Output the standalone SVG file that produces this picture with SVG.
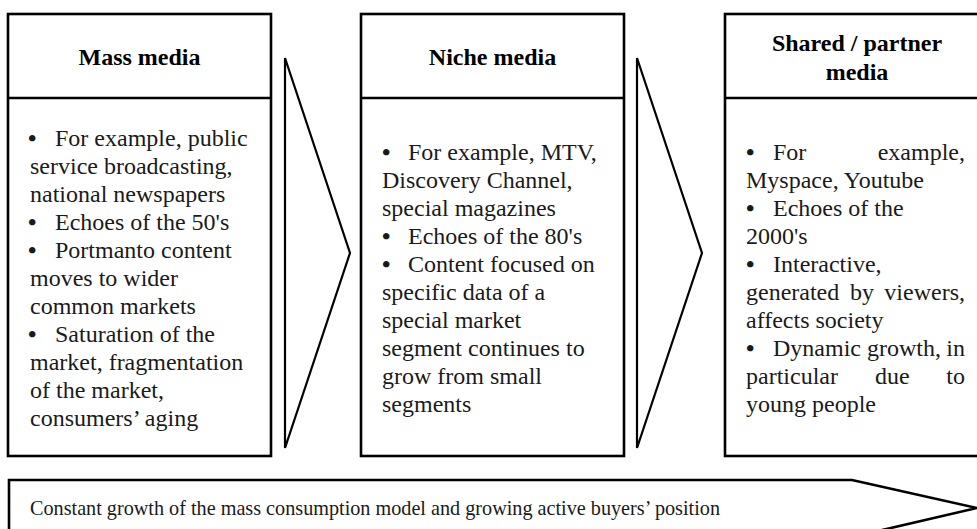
<svg xmlns="http://www.w3.org/2000/svg" width="977" height="529" viewBox="0 0 977 529">
<style>
  .box { fill: #ffffff; stroke: #000000; stroke-width: 2.6; }
  .chev { fill: none; stroke: #000000; stroke-width: 2.2; stroke-linejoin: miter; }
  .h { font-family: "Liberation Serif", "Times New Roman", serif; font-size: 24px; font-weight: bold; fill: #000; text-anchor: middle; }
  .t { font-family: "Liberation Serif", "Times New Roman", serif; font-size: 24px; fill: #1a1a1a; }
  .b { font-family: "Liberation Serif", "Times New Roman", serif; font-size: 24px; font-weight: bold; fill: #1a1a1a; }
  .s { font-family: "Liberation Serif", "Times New Roman", serif; font-size: 21px; fill: #1a1a1a; }
  .e { text-anchor: end; }
</style>
<rect width="977" height="529" fill="#ffffff"/>

<g id="connectors">
  <polygon class="chev" points="285,58 350,253 285,448"/>
  <polygon class="chev" points="637,58 702,253 637,448"/>
</g>

<g id="mass-media">
  <rect class="box" x="8" y="14" width="263" height="442"/>
  <line class="box" x1="8" y1="98" x2="271" y2="98"/>
  <text class="h" x="139.5" y="65">Mass media</text>
  <text class="b" x="28" y="146">•</text><text class="t" x="55" y="146">For example, public</text>
  <text class="t" x="30" y="174">service broadcasting,</text>
  <text class="t" x="30" y="202">national newspapers</text>
  <text class="b" x="28" y="230">•</text><text class="t" x="55" y="230">Echoes of the 50's</text>
  <text class="b" x="28" y="258">•</text><text class="t" x="55" y="258">Portmanto content</text>
  <text class="t" x="30" y="286">moves to wider</text>
  <text class="t" x="30" y="314">common markets</text>
  <text class="b" x="28" y="342">•</text><text class="t" x="55" y="342">Saturation of the</text>
  <text class="t" x="30" y="370">market, fragmentation</text>
  <text class="t" x="30" y="398">of the market,</text>
  <text class="t" x="30" y="426">consumers’ aging</text>
</g>

<g id="niche-media">
  <rect class="box" x="361" y="14" width="263" height="442"/>
  <line class="box" x1="361" y1="98" x2="624" y2="98"/>
  <text class="h" x="492.5" y="65">Niche media</text>
  <text class="b" x="382" y="160">•</text><text class="t" x="408" y="160">For example, MTV,</text>
  <text class="t" x="382" y="188">Discovery Channel,</text>
  <text class="t" x="382" y="216">special magazines</text>
  <text class="b" x="382" y="244">•</text><text class="t" x="408" y="244">Echoes of the 80's</text>
  <text class="b" x="382" y="272">•</text><text class="t" x="408" y="272">Content focused on</text>
  <text class="t" x="382" y="300">specific data of a</text>
  <text class="t" x="382" y="328">special market</text>
  <text class="t" x="382" y="356">segment continues to</text>
  <text class="t" x="382" y="384">grow from small</text>
  <text class="t" x="382" y="412">segments</text>
</g>

<g id="shared-media">
  <rect class="box" x="725" y="14" width="263" height="442"/>
  <line class="box" x1="725" y1="98" x2="988" y2="98"/>
  <text class="h" x="857" y="51">Shared / partner</text>
  <text class="h" x="857" y="80">media</text>
  <text class="b" x="746" y="160">•</text><text class="t" x="773" y="160">For</text><text class="t e" x="965" y="160">example,</text>
  <text class="t" x="746" y="188">Myspace, Youtube</text>
  <text class="b" x="746" y="216">•</text><text class="t" x="773" y="216">Echoes of the</text>
  <text class="t" x="746" y="244">2000's</text>
  <text class="b" x="746" y="272">•</text><text class="t" x="773" y="272">Interactive,</text>
  <text class="t" x="746" y="300">generated</text><text class="t" x="850" y="300">by</text><text class="t e" x="965" y="300">viewers,</text>
  <text class="t" x="746" y="328">affects society</text>
  <text class="b" x="746" y="356">•</text><text class="t" x="773" y="356">Dynamic</text><text class="t" x="867" y="356">growth,</text><text class="t e" x="965" y="356">in</text>
  <text class="t" x="746" y="384">particular</text><text class="t" x="875" y="384">due</text><text class="t e" x="965" y="384">to</text>
  <text class="t" x="746" y="412">young people</text>
</g>

<g id="growth-arrow">
  <polygon class="box" points="9,480 852,480 977,508 852,537 9,537"/>
  <text class="s" x="30" y="515" textLength="690" lengthAdjust="spacingAndGlyphs">Constant growth of the mass consumption model and growing active buyers’ position</text>
</g>
</svg>
